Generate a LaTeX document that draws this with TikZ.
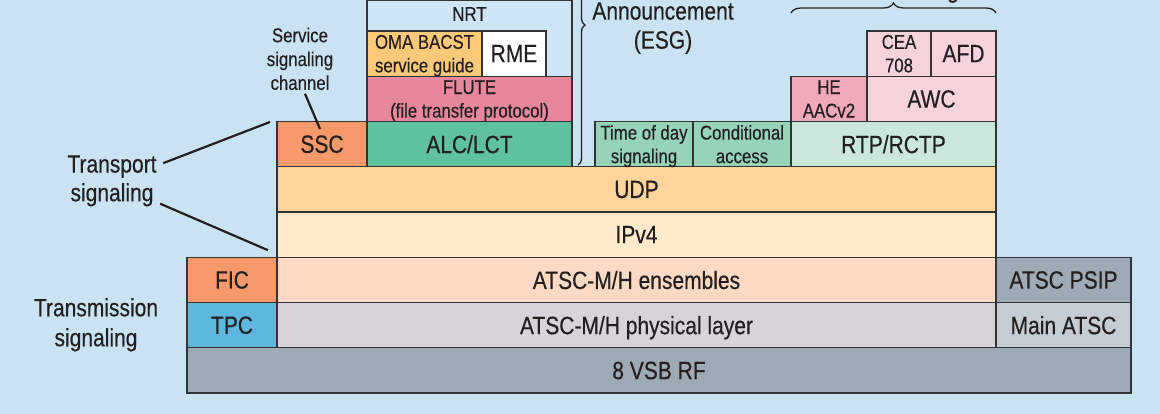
\documentclass[tikz,border=0pt]{standalone}
\usepackage{fontspec}
\setmainfont{Liberation Sans}[FakeStretch=0.84, FakeBold=0.4]
\usetikzlibrary{decorations.pathreplacing, calc}

\definecolor{bgblue}{HTML}{CAE3F2}
\definecolor{ink}{HTML}{231F20}
\definecolor{boxline}{HTML}{333333}
\definecolor{rfgray}{HTML}{9EABB4}
\definecolor{maingray}{HTML}{C4CDD4}
\definecolor{phylilac}{HTML}{D8D2DA}
\definecolor{enspeach}{HTML}{FEDAC4}
\definecolor{sigorange}{HTML}{F69A6B}
\definecolor{tpcblue}{HTML}{5DB7DF}
\definecolor{ipcream}{HTML}{FFEBCC}
\definecolor{udporange}{HTML}{FFD59C}
\definecolor{alcgreen}{HTML}{5EC29F}
\definecolor{flutepink}{HTML}{E6879B}
\definecolor{omayellow}{HTML}{FFC97A}
\definecolor{todgreen}{HTML}{96D4BA}
\definecolor{rtpgreen}{HTML}{C9E8DA}
\definecolor{aacpink}{HTML}{EFA9B8}
\definecolor{awcpink}{HTML}{F8D4DA}
\definecolor{nrtblue}{HTML}{CDE5F4}

\begin{document}
\begin{tikzpicture}[
    x=1pt, y=-1pt, % pixel grid, y pointing down
    % Styles
    layer/.style={ % Protocol box
        rectangle,
        draw=boxline,
        line width=1.2pt,
        inner sep=0pt,
        outer sep=0pt,
        minimum height=45.25pt,
        text=ink,
        text depth=0pt,
        align=center,
        font=\fontsize{25}{28}\selectfont
    },
    small/.style={ % Two-line box text
        font=\fontsize{20}{23.5}\selectfont
    },
    note/.style={ % Side labels
        text=ink,
        text depth=0pt,
        align=center,
        inner sep=0pt,
        font=\fontsize{25}{29}\selectfont
    },
    leader/.style={
        draw=ink,
        line width=2.2pt
    },
    brace/.style={
        decorate,
        draw=ink,
        line width=1.3pt
    }
]
    \useasboundingbox (0,0) rectangle (1160,414);
    \clip (0,0) rectangle (1160,414);
    \fill[bgblue] (0,0) rectangle (1160,414);

    % Physical and transmission layers
    \node[layer, fill=rfgray, minimum width=944] (rf) at (659,370.4) {8 VSB RF};
    \node[layer, fill=tpcblue, minimum width=90] (tpc) at (232,325.1) {TPC};
    \node[layer, fill=phylilac, minimum width=719] (phy) at (636.5,325.1) {ATSC-M/H physical layer};
    \node[layer, fill=maingray, minimum width=135] (main) at (1063.5,325.1) {Main ATSC};
    \node[layer, fill=sigorange, minimum width=90] (fic) at (232,279.9) {FIC};
    \node[layer, fill=enspeach, minimum width=719] (ens) at (636.5,279.9) {ATSC-M/H ensembles};
    \node[layer, fill=rfgray, minimum width=135] (psip) at (1063.5,279.9) {ATSC PSIP};

    % IP layers
    \node[layer, fill=ipcream, minimum width=719] (ipv4) at (636.5,234.6) {IPv4};
    \node[layer, fill=udporange, minimum width=719] (udp) at (636.5,189.4) {UDP};

    % Transport layer
    \node[layer, fill=sigorange, minimum width=90] (ssc) at (322,144.1) {SSC};
    \node[layer, fill=alcgreen, minimum width=205] (alc) at (469.5,144.1) {ALC/LCT};
    \node[layer, small, fill=todgreen, minimum width=98] (tod) at (644,144.1) {Time of day\\signaling};
    \node[layer, small, fill=todgreen, minimum width=98] (ca) at (742,144.1) {Conditional\\access};
    \node[layer, fill=rtpgreen, minimum width=205] (rtp) at (893.5,144.1) {RTP/RCTP};

    % NRT stack
    \node[layer, fill=nrtblue, minimum width=205, minimum height=75.75] (nrt) at (469.5,38.4) {};
    \node[note, font=\fontsize{20}{23.5}\selectfont] (nrtl) at (469.5,14) {NRT};
    \node[layer, small, fill=flutepink, minimum width=205] (flute) at (469.5,98.9) {FLUTE\\(file transfer protocol)};
    \node[layer, small, fill=omayellow, minimum width=115] (oma) at (424.5,53.6) {OMA BACST\\service guide};
    \node[layer, fill=white, minimum width=64] (rme) at (514,53.6) {RME};

    % Streaming stack
    \node[layer, small, fill=aacpink, minimum width=76] (he) at (829,98.9) {HE\\AACv2};
    \node[layer, fill=awcpink, minimum width=129] (awc) at (931.5,98.9) {AWC};
    \node[layer, small, fill=awcpink, minimum width=64] (cea) at (899,53.6) {CEA\\708};
    \node[layer, fill=awcpink, minimum width=65] (afd) at (963.5,53.6) {AFD};

    % Braces and their labels
    \coordinate (esgtop) at (578,-115);
    \coordinate (esgbot) at (578,165);
    \draw[brace, decoration={brace, amplitude=7pt}] (esgtop) -- (esgbot);
    \node[note] (annl) at (663,25.5) {Announcement\\(ESG)};
    \coordinate (topbar) at (0,13);
    \draw[brace, decoration={brace, amplitude=10pt}] (he.north west |- topbar) -- (afd.north east |- topbar);
    \node[note, anchor=base east] (streaml) at (959,-2.3) {Video streaming};

    % Signaling labels
    \node[note, font=\fontsize{20}{23.8}\selectfont] (sscl) at (300,58.8) {Service\\signaling\\channel};
    \node[note, font=\fontsize{25}{28.7}\selectfont] (trl) at (112,178.3) {Transport\\signaling};
    \node[note, font=\fontsize{25}{30}\selectfont] (tml) at (96,322.2) {Transmission\\signaling};

    % Leader lines
    \draw[leader] ([shift={(5,3.7)}]sscl.south) -- ([shift={(-2,7.5)}]ssc.north);
    \draw[leader] ([shift={(6.5,8)}]trl.north east) -- ([shift={(-7,0.5)}]ssc.north west);
    \draw[leader] ([shift={(3.5,2.3)}]trl.south east) -- ([shift={(-9,-7)}]ipv4.south west);
\end{tikzpicture}
\end{document}
